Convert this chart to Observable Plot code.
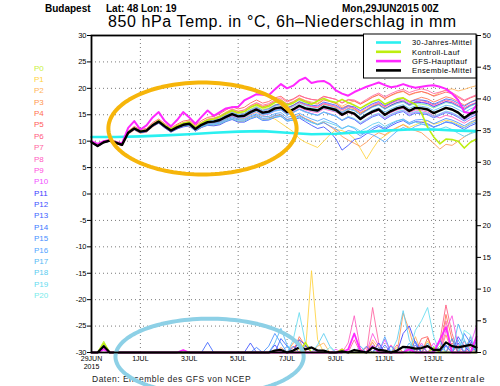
<!DOCTYPE html>
<html><head><meta charset="utf-8">
<script src="https://cdn.jsdelivr.net/npm/d3@7"></script>
<script src="https://cdn.jsdelivr.net/npm/@observablehq/plot@0.6"></script>
<style>
html,body{margin:0;padding:0;background:#fff;}
#chart{width:500px;height:386px;overflow:hidden;}
</style></head><body><div id="chart"></div>
<script>
// ---------------- data ----------------
const startTime = "2015-06-29T00:00Z";
const stepHours = 6;
const memberNames = ["P0","P1","P2","P3","P4","P5","P6","P7","P8","P9","P10","P11","P12","P13","P14","P15","P16","P17","P18","P19","P20"];
const memberColors = ["#c8f03c","#ffd23c","#ffb45a","#ff9650","#ff7050","#ff5a5a","#ff5a80","#ff64a0","#ff5ac0","#ff50e0","#f050ff","#3c3cff","#3c50ff","#3c64ff","#3c78ff","#4690ff","#50a5ff","#55b9f5","#5accf0","#64dcf0","#78ebeb"];

// 850 hPa temperature (°C), 6-hourly, per ensemble member
const tempMembers = [
"9.8 9.2 9.9 10.2 9.8 9.3 11.5 12.3 11.9 12.1 13.1 13.8 12.9 12.1 12.8 13.3 13.5 12.5 13.4 14.0 14.1 14.4 15.0 15.6 15.1 15.3 16.1 16.6 16.0 16.3 16.9 17.2 16.4 16.8 17.4 16.9 16.6 16.4 17.1 16.8 16.5 15.9 16.5 16.1 15.4 16.0 16.7 17.0 16.2 16.8 17.3 17.5 16.8 17.2 17.0 16.8 16.3 16.9 17.4 17.1 16.6 16.0 16.7 17.1",
"9.8 9.0 9.7 10.0 9.6 9.2 11.4 12.2 11.6 11.8 12.8 13.5 12.6 11.8 12.4 12.9 13.1 12.0 12.8 13.3 13.4 13.6 14.2 14.7 14.2 14.3 15.0 15.5 14.8 14.6 14.2 13.4 12.6 11.8 10.5 9.8 9.3 8.8 10.0 11.2 12.2 12.0 11.5 10.5 8.6 6.6 8.5 10.2 11.0 11.8 12.5 13.2 12.6 13.1 13.6 13.8 13.2 13.5 14.0 13.7 13.2 12.6 13.4 14.0",
"9.9 9.2 9.9 10.3 9.9 9.4 11.8 12.6 12.0 12.2 13.3 14.0 13.1 12.3 13.0 13.5 13.8 12.8 13.6 14.2 14.4 14.8 15.5 16.1 15.7 15.9 16.7 17.2 16.6 16.9 17.6 17.9 17.0 17.5 18.2 17.7 17.4 17.2 17.9 17.6 17.3 16.6 17.2 17.6 17.0 17.7 18.4 18.8 18.0 18.6 19.1 19.4 18.7 19.1 19.4 19.0 18.6 19.2 19.7 19.9 19.5 19.8 20.2 20.5",
"9.7 9.0 9.7 10.0 9.6 9.1 11.3 12.1 11.5 11.7 12.7 13.4 12.5 11.7 12.3 12.8 12.9 11.9 12.6 13.1 13.0 13.2 13.8 14.2 13.7 13.8 14.4 14.8 14.1 14.2 14.8 15.0 14.1 14.4 15.0 14.3 13.8 13.2 13.6 12.8 12.0 10.9 10.2 9.6 9.0 9.8 10.9 11.6 11.2 12.0 12.6 13.1 12.4 12.0 11.6 10.6 9.6 8.5 9.4 9.2 10.0 10.8 11.5 12.2",
"9.8 9.1 9.8 10.1 9.7 9.3 11.6 12.4 11.8 12.0 13.0 13.7 12.8 12.0 12.6 13.1 13.4 12.4 13.2 13.8 14.0 14.4 15.1 15.7 15.3 15.6 16.4 17.0 16.5 16.8 17.5 17.8 17.0 17.4 18.1 17.6 17.2 17.0 17.8 17.5 17.1 16.3 16.8 16.2 15.3 15.9 16.6 17.2 16.5 17.2 17.8 18.2 17.5 17.9 18.3 18.0 17.4 17.9 18.4 18.1 17.5 16.8 17.4 17.9",
"9.9 9.2 10.0 10.3 9.9 9.5 11.9 12.8 12.2 12.4 13.5 14.2 13.3 12.5 13.2 13.8 14.0 13.0 13.9 14.5 14.7 15.2 15.9 16.5 16.1 16.4 17.2 17.8 17.2 17.5 18.2 18.5 17.6 18.0 18.7 18.2 17.9 17.8 18.5 18.2 17.9 17.2 17.8 17.6 17.0 17.6 18.3 18.8 18.1 18.7 19.2 19.5 18.8 19.2 19.4 19.1 18.5 18.9 19.3 19.0 18.3 17.6 18.2 18.6",
"9.8 9.1 9.8 10.1 9.8 9.4 11.7 12.5 11.9 12.1 13.1 13.8 12.9 12.1 12.8 13.3 13.5 12.5 13.3 13.9 14.0 14.3 14.9 15.4 15.0 15.2 15.9 16.4 15.8 16.1 16.7 17.0 16.2 16.7 17.4 16.9 16.5 16.3 17.0 16.7 16.3 15.6 16.2 15.9 15.1 15.8 16.5 16.9 16.1 16.7 17.2 17.5 16.8 17.3 17.7 17.4 16.8 17.3 17.8 17.5 16.9 16.3 16.9 17.3",
"9.8 9.1 9.9 10.2 9.8 9.4 11.7 12.6 12.0 12.2 13.2 13.9 13.0 12.2 12.9 13.4 13.6 12.6 13.5 14.1 14.3 14.7 15.4 16.0 15.6 15.9 16.7 17.3 16.8 17.1 17.8 18.2 17.4 17.9 18.6 18.2 17.9 17.7 18.4 18.2 17.9 17.3 17.9 17.8 17.2 17.9 18.6 19.1 18.4 19.0 19.5 19.8 19.2 19.6 19.9 19.6 19.0 19.3 19.6 19.2 18.5 17.8 18.3 18.8",
"9.7 9.0 9.7 10.0 9.6 9.2 11.4 12.2 11.6 11.8 12.8 13.5 12.6 11.8 12.4 12.9 13.1 12.1 12.9 13.4 13.5 13.8 14.4 14.9 14.5 14.6 15.3 15.8 15.2 15.4 16.0 16.2 15.3 15.7 16.4 15.9 15.6 15.4 16.1 15.8 15.5 14.8 15.4 15.0 14.1 14.8 15.4 15.8 14.8 15.4 15.9 16.2 15.4 15.9 15.8 15.5 14.8 14.4 14.9 14.6 14.0 13.4 14.1 14.6",
"9.9 9.2 9.9 10.2 9.8 9.4 11.7 12.5 11.9 12.1 13.1 13.8 12.9 12.1 12.7 13.2 13.4 12.4 13.2 13.7 13.8 14.2 14.8 15.3 14.9 15.1 15.8 16.3 15.7 16.0 16.6 16.9 16.1 16.5 17.2 16.8 16.6 16.5 17.2 16.9 16.6 15.9 16.5 16.3 15.6 16.3 16.9 17.3 16.5 17.1 17.6 17.8 17.1 17.5 17.4 17.2 16.6 17.0 17.5 17.3 16.7 16.1 16.8 17.3",
"9.8 9.1 9.8 10.1 9.7 9.3 11.5 12.3 11.7 11.9 12.9 13.6 12.7 11.9 12.5 13.0 13.2 12.2 13.0 13.5 13.5 13.8 14.4 14.8 14.4 14.5 15.1 15.6 14.9 15.1 15.7 15.9 15.0 15.4 16.0 15.5 15.2 14.9 15.5 15.2 14.8 14.0 14.6 14.2 13.3 14.1 14.8 15.2 14.3 15.0 15.5 15.8 15.0 15.5 15.4 15.2 14.6 15.1 15.6 15.3 14.7 14.0 14.8 15.3",
"9.8 9.1 9.8 10.1 9.7 9.3 11.6 12.4 11.8 12.0 13.0 13.7 12.8 12.0 12.6 13.1 13.3 12.3 13.1 13.6 13.6 13.9 14.5 15.0 14.6 14.7 15.4 15.9 15.3 15.5 16.1 16.3 15.5 16.0 16.7 16.3 16.0 15.9 16.6 16.4 16.1 15.4 16.1 15.8 15.0 15.8 16.5 16.9 16.1 16.8 17.3 17.6 16.9 17.4 17.3 17.1 16.5 17.0 17.5 17.2 16.6 16.0 16.7 17.2",
"9.7 9.0 9.7 10.0 9.6 9.2 11.5 12.2 11.6 11.8 12.8 13.4 12.5 11.7 12.3 12.7 12.9 11.9 12.6 13.0 12.9 13.1 13.7 14.1 13.6 13.6 14.2 14.6 13.9 14.0 14.5 14.7 13.8 14.0 14.4 13.7 13.0 12.4 12.7 11.8 10.4 8.3 9.2 10.3 10.6 11.4 12.2 12.8 12.2 12.9 13.5 13.9 13.2 13.7 13.6 13.3 12.7 13.1 13.6 13.4 12.8 12.2 12.9 13.4",
"9.8 9.1 9.8 10.2 9.8 9.4 11.7 12.5 11.9 12.1 13.1 13.8 12.9 12.1 12.7 13.2 13.4 12.4 13.2 13.7 13.9 14.2 14.8 15.4 15.0 15.2 15.9 16.4 15.8 16.1 16.8 17.1 16.3 16.8 17.5 17.1 16.8 16.7 17.4 17.1 16.8 16.1 16.7 16.5 15.8 16.5 17.1 17.5 16.7 17.3 17.8 18.1 17.4 17.8 17.8 17.6 17.0 17.5 18.0 17.8 17.2 16.6 17.3 17.8",
"9.8 9.1 9.8 10.1 9.7 9.3 11.5 12.3 11.7 11.9 12.9 13.6 12.7 11.9 12.5 13.0 13.2 12.2 13.0 13.5 13.6 13.9 14.5 15.0 14.6 14.7 15.3 15.8 15.1 15.3 15.8 16.0 15.1 15.5 16.1 15.6 15.2 14.9 15.5 15.1 14.7 13.9 14.5 14.1 13.2 13.9 14.6 15.0 14.1 14.8 15.3 15.6 14.8 15.3 15.2 15.0 14.4 14.9 15.4 15.1 14.5 13.8 14.5 15.0",
"9.8 9.1 9.8 10.1 9.7 9.3 11.5 12.3 11.7 11.9 12.9 13.5 12.6 11.8 12.4 12.9 13.0 12.0 12.7 13.2 13.2 13.4 14.0 14.4 14.0 14.0 14.6 15.0 14.3 14.4 14.9 15.0 14.1 14.3 14.8 14.2 13.6 13.1 13.5 12.9 12.3 11.4 12.0 11.8 11.0 11.8 12.6 13.1 12.4 13.2 13.8 14.2 13.5 14.0 14.1 13.9 13.3 13.8 14.3 14.0 13.5 12.9 13.6 14.1",
"9.8 9.1 9.8 10.1 9.7 9.3 11.6 12.4 11.8 12.0 13.0 13.7 12.8 12.0 12.6 13.1 13.2 12.2 12.9 13.4 13.4 13.6 14.2 14.6 14.2 14.2 14.8 15.2 14.6 14.7 15.2 15.4 14.5 14.8 15.3 14.7 14.2 13.8 14.3 13.8 13.3 12.4 12.9 12.4 11.4 11.6 11.2 10.6 9.8 10.9 11.9 12.6 12.1 12.8 13.2 13.1 12.6 13.1 13.7 13.5 13.0 12.5 13.2 13.7",
"9.8 9.1 9.8 10.1 9.7 9.3 11.6 12.4 11.8 12.0 13.0 13.7 12.8 12.0 12.6 13.1 13.3 12.3 13.1 13.6 13.7 14.0 14.6 15.1 14.7 14.8 15.5 16.0 15.4 15.6 16.2 16.4 15.6 16.0 16.6 16.1 15.8 15.6 16.3 16.0 15.6 14.9 15.6 15.2 14.5 15.2 15.9 16.3 15.5 16.1 16.6 16.9 16.2 16.7 16.6 16.4 15.8 16.3 16.8 16.6 16.0 15.4 16.1 16.6",
"9.8 9.1 9.8 10.1 9.7 9.3 11.5 12.3 11.7 11.9 12.9 13.6 12.7 11.9 12.5 12.9 13.0 12.0 12.7 13.1 13.1 13.3 13.8 14.2 13.8 13.8 14.3 14.7 14.0 14.1 14.6 14.7 13.8 14.0 14.6 14.0 13.5 13.2 13.8 13.4 13.0 12.3 12.9 12.6 11.9 12.5 13.2 13.6 12.8 13.4 13.9 14.1 13.3 13.6 13.3 12.8 12.0 12.3 12.7 12.2 11.5 10.9 11.4 11.8",
"9.8 9.1 9.8 10.1 9.7 9.3 11.6 12.4 11.8 12.0 13.0 13.7 12.8 12.0 12.6 13.1 13.2 12.2 13.0 13.5 13.6 13.9 14.5 15.0 14.5 14.6 15.2 15.7 15.0 15.2 15.7 15.9 15.0 15.4 16.0 15.5 15.1 14.9 15.5 15.1 14.8 14.0 14.7 14.3 13.5 14.2 14.9 15.3 14.5 15.1 15.6 15.9 15.2 15.6 15.5 15.3 14.7 15.2 15.7 15.4 14.8 14.2 14.9 15.4",
"9.8 9.1 9.8 10.1 9.7 9.3 11.6 12.4 11.8 12.0 13.0 13.7 12.8 12.0 12.6 13.1 13.4 12.4 13.2 13.8 13.9 14.3 14.9 15.4 15.0 15.2 15.9 16.4 15.8 16.0 16.6 16.9 16.0 16.5 17.1 16.7 16.3 16.1 16.8 16.5 16.2 15.5 16.1 15.8 15.0 15.7 16.4 16.8 16.0 16.6 17.1 17.4 16.7 17.1 17.1 16.9 16.3 16.8 17.3 17.1 16.5 15.9 16.6 17.1"
];
const tempMean = "9.8 9.1 9.8 10.1 9.7 9.3 11.6 12.4 11.8 12.0 13.0 13.7 12.8 12.0 12.6 13.1 13.3 12.3 13.1 13.6 13.7 14.0 14.6 15.1 14.7 14.8 15.5 16.0 15.4 15.6 16.2 16.4 15.5 16.0 16.7 16.2 16.0 15.8 16.5 16.2 15.9 15.0 15.6 15.2 14.2 15.0 15.6 16.0 15.0 15.7 16.2 16.5 15.7 16.3 16.2 16.0 15.3 15.8 16.3 16.0 15.4 14.4 15.2 15.6";
const tempMain = "10.0 9.5 10.0 10.2 9.8 9.6 12.5 13.8 12.2 13.0 14.5 15.5 13.8 12.8 14.0 15.5 14.5 13.3 14.6 15.8 14.8 15.5 16.2 16.4 16.5 17.7 18.3 18.9 18.8 18.7 19.8 20.8 20.0 20.5 21.5 22.0 21.0 21.3 21.4 20.8 19.6 19.0 18.6 19.3 19.8 20.3 20.7 21.1 20.6 20.2 20.4 20.8 20.4 20.1 20.3 20.5 20.6 20.3 19.9 19.0 17.8 15.5 15.3 16.8";
const tempControl = "9.9 9.2 9.9 10.2 9.8 9.4 11.7 12.5 11.9 12.1 13.1 13.9 13.0 12.3 12.9 13.4 13.6 12.6 13.4 14.0 14.2 14.6 15.3 15.8 15.4 15.6 16.4 16.9 16.3 16.6 17.3 17.6 16.8 17.2 17.9 17.4 17.0 17.6 18.1 17.6 17.3 17.9 17.3 16.8 16.2 16.9 17.5 17.9 17.0 17.5 18.0 18.2 17.5 17.0 15.3 12.6 10.8 9.5 10.4 10.3 10.0 8.7 9.8 10.4";
// 30-year climate mean (°C), by forecast day
const climateDay = [0,1,2,3,4,5,6,7,8,9,10,11,12,13,14,15,15.75];
const climateTemp = [10.8,10.8,10.9,11.1,11.3,11.6,11.8,11.9,11.6,11.3,11.4,11.7,12.0,12.2,12.2,12.0,11.9];

// 6h precipitation (mm): "step:mm", all other steps 0
const precipMembers = [
"2:1.8 35:1.2 41:0.4 50:0.8 57:1.0 62:1.5",
"2:1.2 34:0.5 36:12.9 37:2.0 44:0.6 55:1.8 59:2.2",
"2:1.0 37:1.0 38:1.5 46:2.0 47:0.8 53:2.5 60:1.2",
"2:1.1 31:0.8 33:1.5 34:2.0 51:6.2 52:3.5 54:1.0 58:2.8 61:1.0",
"2:0.9 34:2.5 35:1.0 46:1.6 55:2.3 58:6.0 59:2.0",
"2:1.3 33:0.8 34:1.5 45:0.8 54:2.2 55:2.5 59:1.5 62:0.8",
"2:0.8 41:0.6 46:1.0 50:1.2 57:1.8 58:7.5 59:3.0",
"2:1.0 43:2.0 46:7.1 47:1.5 52:0.8 58:5.0 62:2.5",
"2:0.7 42:1.5 43:5.8 44:0.5 49:1.2 55:1.0 61:1.8 63:0.8",
"2:0.9 46:3.0 47:1.0 54:1.5 58:3.5 59:5.8 60:1.0",
"2:0.6 40:0.5 48:2.0 52:1.0 56:1.5 62:1.2 63:4.2",
"2:1.1 30:1.2 34:2.0 35:1.2 47:1.5 51:3.0 52:4.2 53:1.5 58:1.0 62:2.0",
"2:1.2 26:1.5 35:1.0 36:0.8 49:1.0 53:1.2 60:2.5 61:1.0",
"2:1.0 19:1.6 31:2.2 32:1.0 48:1.2 57:2.0 60:1.5 63:1.8",
"2:0.9 27:0.8 33:1.0 45:1.0 53:1.8 58:1.2 61:3.0 62:1.5",
"2:1.0 29:1.0 30:3.0 31:1.5 47:0.8 54:1.2 59:2.2 63:1.0",
"2:1.4 32:1.0 44:1.0 48:2.5 55:1.5 60:2.0",
"2:1.1 30:1.5 31:3.8 32:1.2 52:1.5 60:4.5 61:2.0",
"2:1.3 37:1.2 38:3.0 39:1.0 50:2.0 51:6.6 52:2.0 56:1.0 62:2.5",
"2:1.0 33:2.0 34:6.3 35:1.5 53:3.5 54:5.0 55:7.1 56:2.5 61:2.0",
"2:1.5 34:1.0 39:0.8 46:1.2 57:1.5 61:3.5 62:2.8"
];
const precipMean = "2:1.0 30:0.3 31:0.4 33:0.3 34:0.8 35:0.5 36:0.8 37:0.3 38:0.3 41:0.2 43:0.4 44:0.2 46:0.8 47:0.4 48:0.3 50:0.3 51:0.9 52:0.8 53:0.6 54:0.7 55:1.0 56:0.4 57:0.4 58:1.6 59:1.0 60:0.8 61:1.0 62:1.2 63:0.8";
const precipMain = "2:0.5 15:0.4 42:0.5 43:3.0 44:0.3 46:1.0 52:0.5 57:2.0 58:4.0 63:2.5";
const precipControl = "2:1.5 35:1.6 41:0.5 56:0.8";

// axes
const xTickDates = ["2015-06-29","2015-07-01","2015-07-03","2015-07-05","2015-07-07","2015-07-09","2015-07-11","2015-07-13"];
const xTickLabels = ["29JUN\n2015","1JUL","3JUL","5JUL","7JUL","9JUL","11JUL","13JUL"];
const tempTicks = [-30,-25,-20,-15,-10,-5,0,5,10,15,20,25,30];
const precipTicks = [0,5,10,15,20,25,30,35,40,45,50];
const legendLabels = ["30-Jahres-Mittel","Kontroll-Lauf","GFS-Hauptlauf","Ensemble-Mittel"];

// ---------------- build ----------------
const nSteps = 64;
const t0 = new Date(startTime);
const dayMs = 86400000;
const timeAt = i => new Date(t0.getTime() + i * stepHours * 3600000);
const timeDay = d => new Date(t0.getTime() + d * dayMs);
const tEnd = timeAt(nSteps - 1);
const parseSeries = s => s.trim().split(/\s+/).map(Number);
const parseSparse = s => { const a = new Array(nSteps).fill(0); s.trim().split(/\s+/).forEach(p => { const [i, v] = p.split(":"); a[+i] = +v; }); return a; };
// right axis: 0..50 mm mapped onto the -30..30 °C scale
const mmToY = mm => -30 + mm * 60 / 50;
const yToMm = y => (y + 30) * 50 / 60;

const memberRows = [];
memberNames.forEach((m, k) => {
  const t = parseSeries(tempMembers[k]);
  const p = parseSparse(precipMembers[k]);
  for (let i = 0; i < nSteps; i++) memberRows.push({member: m, time: timeAt(i), temp: t[i], py: mmToY(p[i])});
});
const seriesRows = (ts, ps) => { const t = parseSeries(ts), p = parseSparse(ps); return t.map((v, i) => ({time: timeAt(i), temp: v, py: mmToY(p[i])})); };
const meanRows = seriesRows(tempMean, precipMean);
const mainRows = seriesRows(tempMain, precipMain);
const ctrlRows = seriesRows(tempControl, precipControl);
const climRows = climateDay.map((d, i) => ({time: timeDay(d), temp: climateTemp[i]}));

// annotation ellipses (data units: days / °C)
const ellipses = [
  {id: "a", cx: 4.54, cy: 12.4, rx: 3.85, ry: 8.7, color: "#f6b50a"},
  {id: "b", cx: 4.83, cy: -30.8, rx: 3.85, ry: 7.2, color: "#8dd0e6"}
];
const ellRows = [];
ellipses.forEach(e => { for (let k = 0; k <= 140; k++) { const a = 2 * Math.PI * k / 140; ellRows.push({id: e.id, color: e.color, time: timeDay(e.cx + e.rx * Math.cos(a)), y: e.cy + e.ry * Math.sin(a)}); } });

const labelMap = new Map(xTickDates.map((d, i) => [+new Date(d + "T00:00Z"), xTickLabels[i]]));
const xTicks = xTickDates.map(d => new Date(d + "T00:00Z"));
const font = "'Liberation Sans', Arial, sans-serif";

const chart = Plot.plot({
  width: 500, height: 386,
  marginLeft: 91, marginRight: 24, marginTop: 35, marginBottom: 34,
  style: {fontFamily: font, fontSize: "7.5px", background: "white", color: "black", overflow: "visible"},
  x: {type: "utc", domain: [t0, tEnd]},
  y: {domain: [-30, 30]},
  color: {domain: memberNames, range: memberColors},
  marks: [
    Plot.gridX(xTicks.slice(1), {stroke: "#7a7a7a", strokeOpacity: 1, strokeDasharray: "1,3"}),
    Plot.gridY(tempTicks.slice(1, -1), {stroke: "#7a7a7a", strokeOpacity: 1, strokeDasharray: "1,3"}),
    Plot.line(memberRows, {x: "time", y: "py", z: "member", stroke: "member", strokeWidth: 1, strokeOpacity: 0.85}),
    Plot.line(memberRows, {x: "time", y: "temp", z: "member", stroke: "member", strokeWidth: 1, strokeOpacity: 0.85}),
    Plot.line(ctrlRows, {x: "time", y: "py", stroke: "#bdee10", strokeWidth: 1.4}),
    Plot.line(ctrlRows, {x: "time", y: "temp", stroke: "#bdee10", strokeWidth: 1.6}),
    Plot.line(climRows, {x: "time", y: "temp", stroke: "#2af0f0", strokeWidth: 2.6}),
    Plot.line(mainRows, {x: "time", y: "py", stroke: "#ff28ff", strokeWidth: 1.8}),
    Plot.line(mainRows, {x: "time", y: "temp", stroke: "#ff28ff", strokeWidth: 2}),
    Plot.line(meanRows, {x: "time", y: "py", stroke: "black", strokeWidth: 2.2}),
    Plot.line(meanRows, {x: "time", y: "temp", stroke: "black", strokeWidth: 2.4}),
    Plot.line(ellRows, {x: "time", y: "y", z: "id", stroke: "color", strokeWidth: 4, curve: "linear"}),
    Plot.frame({stroke: "black", strokeWidth: 1.8}),
    Plot.axisY({anchor: "left", ticks: tempTicks, tickFormat: d => String(d), tickSize: 4, tickPadding: 1, label: null}),
    Plot.axisY({anchor: "right", ticks: precipTicks.map(mmToY), tickFormat: d => String(Math.round(yToMm(d))), tickSize: 4, tickPadding: 2, label: null}),
    Plot.axisX({ticks: xTicks, tickFormat: d => labelMap.get(+d), tickSize: 0, tickPadding: 3, label: null, lineHeight: 1.1, fontSize: 7})
  ]
});
document.getElementById("chart").appendChild(chart);

// ---------------- texts & legends ----------------
const svg = d3.select(chart);
const back = svg.insert("g", "g");
const txt = (g, x, y, s, o = {}) => g.append("text").attr("x", x).attr("y", y)
  .attr("text-anchor", "start")
  .attr("font-size", o.size || 8).attr("font-weight", o.weight || "normal")
  .attr("letter-spacing", o.ls || 0).attr("fill", o.fill || "black").attr("font-family", font).text(s);
txt(back, 45, 11.5, "Budapest", {size: 10, weight: "bold"});
txt(back, 106, 11.5, "Lat: 48 Lon: 19", {size: 10, weight: "bold"});
txt(back, 342, 11.5, "Mon,29JUN2015 00Z", {size: 10, weight: "bold"});
txt(back, 108, 26.8, "850 hPa Temp. in °C, 6h\u2013Niederschlag in mm", {size: 16, ls: 0.6});
txt(back, 92, 382, "Daten: Ensemble des GFS von NCEP", {size: 8.5, ls: 0.5, fill: "#222"});
txt(back, 410, 381.5, "Wetterzentrale", {size: 9.5, ls: 1, fill: "#222"});
memberNames.forEach((m, k) => txt(back, 34, 70.5 + 11.38 * k, m, {size: 8, fill: memberColors[k]}));

const leg = svg.append("g");
leg.append("rect").attr("x", 363.5).attr("y", 34).attr("width", 112.5).attr("height", 44)
  .attr("fill", "white").attr("stroke", "black").attr("stroke-width", 1);
const legColors = ["#2af0f0", "#bdee10", "#ff28ff", "black"];
legendLabels.forEach((s, k) => {
  const yy = 42.5 + 9.3 * k;
  leg.append("line").attr("x1", 376).attr("x2", 401).attr("y1", yy).attr("y2", yy)
    .attr("stroke", legColors[k]).attr("stroke-width", 2.6);
  txt(leg, 412, yy + 2.7, s, {size: 7.5, ls: 0.4});
});
</script>
</body></html>
